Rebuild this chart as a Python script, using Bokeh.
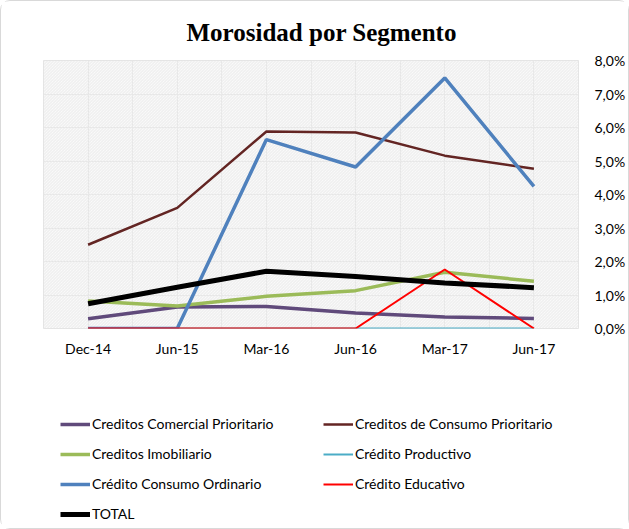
from bokeh.plotting import figure
from bokeh.layouts import column
from bokeh.models import (Range1d, FixedTicker, Legend, LegendItem, BoxAnnotation)
from bokeh.embed import file_html
from bokeh.resources import INLINE

categories = ["Dec-14", "Jun-15", "Mar-16", "Jun-16", "Mar-17", "Jun-17"]
comercial_prioritario = [0.29, 0.64, 0.66, 0.46, 0.34, 0.30]
consumo_prioritario = [2.50, 3.60, 5.88, 5.85, 5.16, 4.77]
imobiliario = [0.82, 0.67, 0.96, 1.13, 1.68, 1.41]
productivo = [0.0, 0.0, 0.0, 0.0, 0.0, 0.0]
consumo_ordinario = [0.0, 0.0, 5.64, 4.82, 7.48, 4.24]
educativo = [0.0, 0.0, 0.0, 0.0, 1.76, 0.0]
total = [0.74, 1.23, 1.71, 1.55, 1.36, 1.22]
y_ticks = [0, 1, 2, 3, 4, 5, 6, 7, 8]
y_tick_labels = ["0,0%", "1,0%", "2,0%", "3,0%", "4,0%", "5,0%", "6,0%", "7,0%", "8,0%"]

series = [
    ("Creditos Comercial Prioritario", comercial_prioritario, "#604A7B", 3.5),
    ("Creditos de Consumo Prioritario", consumo_prioritario, "#632523", 2.5),
    ("Creditos Imobiliario", imobiliario, "#9BBB59", 3.5),
    ("Crédito Productivo", productivo, "#4BACC6", 2),
    ("Crédito Consumo Ordinario", consumo_ordinario, "#4F81BD", 3.5),
    ("Crédito Educativo", educativo, "#FF0000", 2),
    ("TOTAL", total, "#000000", 5),
]

xs = list(range(len(categories)))
FONT = "Lato"

# ---- main chart ----
p = figure(width=627, height=358, output_backend="svg", toolbar_location=None,
           x_range=Range1d(-0.5, len(categories) - 0.5), y_range=Range1d(0, 8),
           y_axis_location="right", min_border_left=42, min_border_top=59,
           min_border_bottom=31, min_border_right=5)

p.title.text = "Morosidad por Segmento"
p.title.text_font = "Liberation Serif"
p.title.text_font_style = "bold"
p.title.text_font_size = "25px"
p.title.align = "left"
p.title.offset = 143
p.title.standoff = 29
p.title.text_color = "#000000"

p.outline_line_color = "#e3e3e3"
p.background_fill_color = "white"
p.add_layout(BoxAnnotation(fill_color="white", fill_alpha=0, hatch_pattern="\\",
                           hatch_color="#ececec", hatch_scale=3, hatch_weight=1,
                           line_color=None, level="underlay"))

half_ticks = [i / 2 for i in range(-1, 2 * len(categories))]
p.xgrid.ticker = FixedTicker(ticks=half_ticks)
p.xgrid.grid_line_color = "#e3e3e3"
p.ygrid.ticker = FixedTicker(ticks=y_ticks)
p.ygrid.grid_line_color = "#e3e3e3"

p.xaxis.ticker = FixedTicker(ticks=xs)
p.xaxis.major_label_overrides = {i: c for i, c in zip(xs, categories)}
p.yaxis.ticker = FixedTicker(ticks=y_ticks)
p.yaxis.major_label_overrides = {t: l for t, l in zip(y_ticks, y_tick_labels)}
for ax in (p.xaxis, p.yaxis):
    ax.axis_line_color = None
    ax.major_tick_line_color = None
    ax.minor_tick_line_color = None
    ax.major_tick_out = 0
    ax.minor_tick_out = 0
    ax.major_label_text_font = FONT
    ax.major_label_text_font_size = "14px"
    ax.major_label_text_color = "#000000"
p.xaxis.major_label_standoff = 11
p.yaxis.major_label_standoff = 16

for name, vals, color, w in series:
    p.line(xs, vals, line_color=color, line_width=w)

# ---- legend panel (same series, drawn outside its view so only the legend shows) ----
q = figure(width=627, height=169, output_backend="svg", toolbar_location=None,
           x_range=Range1d(100, 101), y_range=Range1d(100, 101),
           x_axis_location=None, y_axis_location=None, min_border=0)
q.outline_line_color = None
q.grid.visible = False
q.background_fill_color = "white"

items = []
for name, vals, color, w in series:
    r = q.line(xs, vals, line_color=color, line_width=w)
    items.append(LegendItem(label=name, renderers=[r]))

legend = Legend(items=items, orientation="horizontal", ncols=2,
                location=(17, 6), padding=0, margin=0, spacing=13,
                glyph_width=30, glyph_height=16, label_height=16, label_width=218,
                label_standoff=2, label_text_font=FONT, label_text_font_size="14px",
                label_text_color="#000000", border_line_color=None,
                background_fill_alpha=0)
q.add_layout(legend, "center")

layout = column(p, q, spacing=0)
layout.styles = {"border": "1px solid #d9d9d9", "border-radius": "10px"}

open("out.html", "w").write(file_html(layout, INLINE))
